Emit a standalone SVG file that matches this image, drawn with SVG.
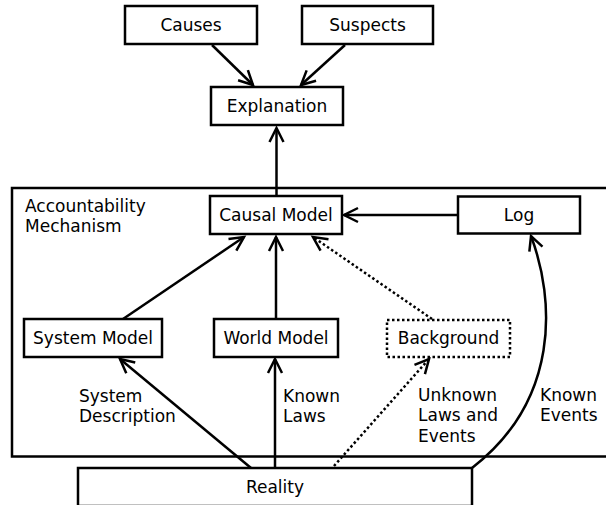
<svg xmlns="http://www.w3.org/2000/svg" width="606" height="505" viewBox="0 0 606 505">
<style>
.box{fill:#fff;stroke:#000;stroke-width:2.5}
.dot{fill:#fff;stroke:#000;stroke-width:2.5;stroke-dasharray:2.5 2.5}
.frame{fill:none;stroke:#000;stroke-width:2.5}
.t{font-family:"DejaVu Sans",sans-serif;font-size:17px;fill:#000}
.c{text-anchor:middle}
.e{fill:none;stroke:#000;stroke-width:2.5;marker-end:url(#ah)}
.ed{fill:none;stroke:#000;stroke-width:2.5;stroke-dasharray:2.5 2.5;marker-end:url(#ah)}
</style>
<defs>
<marker id="ah" markerUnits="userSpaceOnUse" markerWidth="20" markerHeight="20" viewBox="-16 -10 20 20" refX="0" refY="0" orient="auto">
<path d="M-14,-7 L0,0 L-14,7" fill="none" stroke="#000" stroke-width="2.5" stroke-dasharray="none"/>
</marker>
</defs>
<rect width="606" height="505" fill="#fff"/>
<g id="mechanism">
<rect class="frame" x="12" y="188" width="620" height="268.5"/>
<text class="t" x="25" y="211.5">Accountability</text>
<text class="t" x="25" y="231.5">Mechanism</text>
</g>
<g id="connectors">
<line class="e" x1="212" y1="45" x2="253" y2="85"/>
<line class="e" x1="345" y1="45" x2="301" y2="85"/>
<line class="e" x1="276.5" y1="196" x2="276.5" y2="128"/>
<line class="e" x1="458" y1="215" x2="344" y2="215"/>
<line class="e" x1="123" y1="319" x2="244" y2="237"/>
<line class="e" x1="276" y1="319" x2="276" y2="237"/>
<line class="ed" x1="432" y1="319" x2="313" y2="237"/>
<line class="e" x1="251" y1="468" x2="120" y2="359"/>
<line class="e" x1="275" y1="468" x2="275" y2="359"/>
<line class="ed" x1="334" y1="466" x2="429" y2="359"/>
<path class="e" d="M472,468 C560,400 555,300 531,236"/>
</g>
<g id="labels">
<text class="t" x="79" y="402">System</text>
<text class="t" x="79" y="422">Description</text>
<text class="t" x="283" y="402">Known</text>
<text class="t" x="283" y="422">Laws</text>
<text class="t" x="418" y="401">Unknown</text>
<text class="t" x="418" y="421">Laws and</text>
<text class="t" x="418" y="442">Events</text>
<text class="t" x="540" y="401">Known</text>
<text class="t" x="540" y="421">Events</text>
</g>
<g id="causes">
<rect class="box" x="125" y="6" width="132" height="38"/>
<text class="t c" x="191" y="31">Causes</text>
</g>
<g id="suspects">
<rect class="box" x="302" y="6" width="131" height="38"/>
<text class="t c" x="367.5" y="31">Suspects</text>
</g>
<g id="explanation">
<rect class="box" x="211" y="87" width="132" height="38"/>
<text class="t c" x="277" y="112">Explanation</text>
</g>
<g id="causal-model">
<rect class="box" x="210" y="196" width="132" height="38"/>
<text class="t c" x="276" y="221">Causal Model</text>
</g>
<g id="log">
<rect class="box" x="458" y="196.5" width="122" height="37"/>
<text class="t c" x="519" y="221">Log</text>
</g>
<g id="system-model">
<rect class="box" x="24" y="319" width="138" height="38"/>
<text class="t c" x="93" y="343.5">System Model</text>
</g>
<g id="world-model">
<rect class="box" x="214" y="319" width="124" height="38"/>
<text class="t c" x="276" y="343.5">World Model</text>
</g>
<g id="background">
<rect class="dot" x="387" y="320" width="123" height="37"/>
<text class="t c" x="448.5" y="343.5">Background</text>
</g>
<g id="reality">
<rect class="box" x="78" y="468" width="394" height="38"/>
<text class="t c" x="275" y="493">Reality</text>
</g>
</svg>
